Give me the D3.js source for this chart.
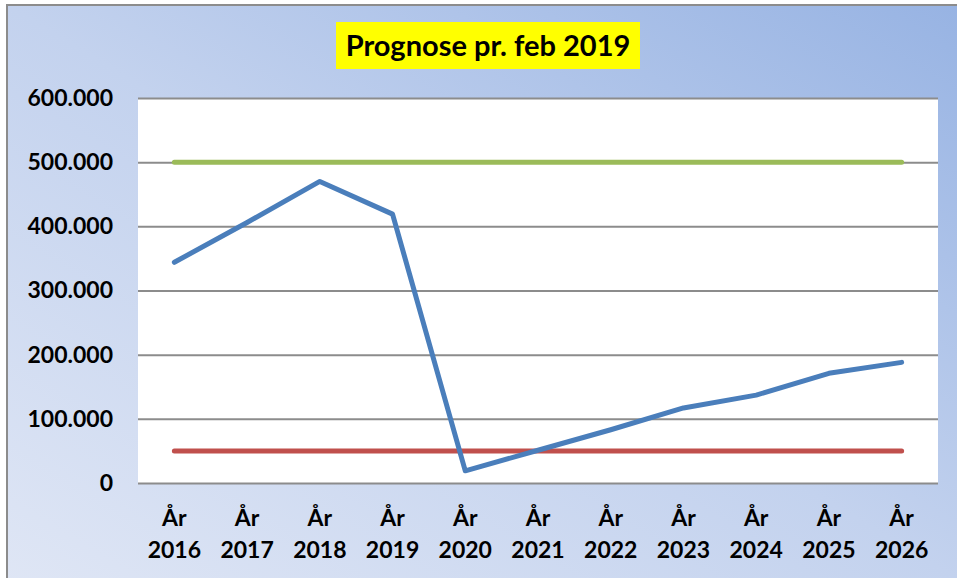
<!DOCTYPE html>
<html><head><meta charset="utf-8">
<script src="https://cdn.jsdelivr.net/npm/d3@7"></script>
<style>body{margin:0;}svg{display:block;}</style>
</head><body>
<svg id="c" width="957" height="578"></svg>
<script>
const categories = ["2016","2017","2018","2019","2020","2021","2022","2023","2024","2025","2026"];
const prognose = [344000, 406000, 470000, 419000, 19000, 51000, 83000, 117000, 137000, 171000, 188000];
const upper = [500000,500000,500000,500000,500000,500000,500000,500000,500000,500000,500000];
const lower = [50000,50000,50000,50000,50000,50000,50000,50000,50000,50000,50000];
const yTicks = [0,100000,200000,300000,400000,500000,600000];
const title = "Prognose pr. feb 2019";

const svg = d3.select("#c");
const defs = svg.append("defs");
const g = defs.append("linearGradient").attr("id","bg").attr("x1","0").attr("y1","1").attr("x2","1").attr("y2","0");
g.append("stop").attr("offset","0").attr("stop-color","#dfe6f5");
g.append("stop").attr("offset","0.5").attr("stop-color","#c3d2ee");
g.append("stop").attr("offset","1").attr("stop-color","#97b3e3");
svg.append("rect").attr("x",0).attr("y",0).attr("width",957).attr("height",578).attr("fill","#ffffff");
svg.append("rect").attr("x",7).attr("y",5).attr("width",960).attr("height",580).attr("fill","url(#bg)").attr("stroke","#8c8c8c").attr("stroke-width",2);

const m = {l:138, r:938, t:98, b:483};
const x = d3.scaleBand().domain(categories).range([m.l,m.r]);
const y = d3.scaleLinear().domain([0,600000]).range([m.b,m.t]);
const fmt = d => d3.format(",")(d).replace(/,/g,".");
const font = "Lato, 'Open Sans', sans-serif";

svg.append("rect").attr("x",m.l).attr("y",m.t).attr("width",m.r-m.l).attr("height",m.b-m.t).attr("fill","#ffffff");

const yAxis = d3.axisLeft(y).tickValues(yTicks).tickSize(-(m.r-m.l)).tickFormat(fmt).tickPadding(25);
const ya = svg.append("g").attr("transform",`translate(${m.l},0)`).call(yAxis);
ya.select(".domain").remove();
ya.selectAll(".tick line").attr("stroke","#8c8c8c").attr("stroke-width",2);
ya.selectAll(".tick text").attr("font-family",font).attr("font-weight","bold").attr("font-size",23).attr("fill","#000");

const xAxis = d3.axisBottom(x).tickSize(0).tickFormat(()=>"");
const xa = svg.append("g").attr("transform",`translate(0,${m.b})`).call(xAxis);
xa.select(".domain").remove();
xa.selectAll(".tick").each(function(d){
  const t = d3.select(this).append("text").attr("fill","#000").attr("text-anchor","middle")
    .attr("font-family",font).attr("font-weight","bold").attr("font-size",23);
  t.append("tspan").attr("x",0).attr("y",43).text("År");
  t.append("tspan").attr("x",0).attr("y",75).text(d);
});

const line = d3.line().x((d,i)=>x(categories[i])+x.bandwidth()/2).y(d=>y(d));
const series = [[upper,"#9bbb59"],[lower,"#c0504d"],[prognose,"#4a7ebb"]];
series.forEach(([data,col])=>{
  svg.append("path").datum(data).attr("d",line).attr("fill","none").attr("stroke",col)
    .attr("stroke-width",5).attr("stroke-linecap","round").attr("stroke-linejoin","round");
});

svg.append("rect").attr("x",336).attr("y",22).attr("width",304).attr("height",47).attr("fill","#ffff00");
svg.append("text").attr("x",488).attr("y",56).attr("text-anchor","middle")
  .attr("font-family",font).attr("font-weight","bold").attr("font-size",29).attr("fill","#000").text(title);
</script>
</body></html>
